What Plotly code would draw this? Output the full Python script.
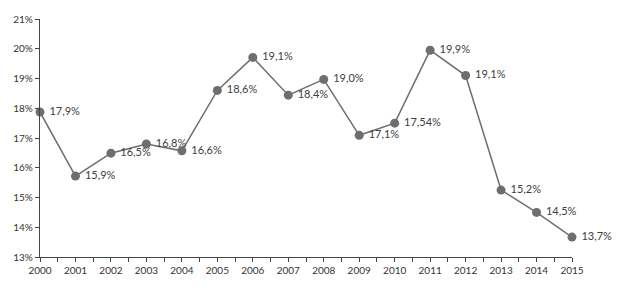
import plotly.graph_objects as go

years = list(range(2000, 2016))
values = [17.87, 15.72, 16.49, 16.8, 16.57, 18.6, 19.71, 18.44, 18.97, 17.09, 17.5, 19.95, 19.1, 15.25, 14.5, 13.67]
labels = ["17,9%", "15,9%", "16,5%", "16,8%", "16,6%", "18,6%", "19,1%", "18,4%", "19,0%",
          "17,1%", "17,54%", "19,9%", "19,1%", "15,2%", "14,5%", "13,7%"]
y_ticks = [13, 14, 15, 16, 17, 18, 19, 20, 21]

fig = go.Figure()
fig.add_trace(go.Scatter(
    x=years, y=values, mode="lines+markers+text",
    text=[" " + t for t in labels], textposition="middle right",
    textfont=dict(family="Lato, DejaVu Sans, sans-serif", size=11, color="#404040"),
    line=dict(color="#6e6e6e", width=1.5),
    marker=dict(color="#6e6e6e", size=9),
    cliponaxis=False, hoverinfo="skip",
))

axis_font = dict(family="Lato, DejaVu Sans, sans-serif", size=10, color="#333333")
fig.update_layout(
    width=616, height=286,
    margin=dict(l=32, r=52, t=11, b=37),
    paper_bgcolor="white", plot_bgcolor="white",
    showlegend=False,
    xaxis=dict(
        range=[2000, 2015], tickvals=years, ticktext=[str(y) for y in years],
        showgrid=False, zeroline=False, showline=True, linecolor="#444444", linewidth=1.3,
        ticks="outside", ticklen=4, tickcolor="#444444", tickfont=axis_font, automargin=False,
        minor=dict(dtick=0.5, tick0=2000, ticks="outside", ticklen=4, tickcolor="#444444", showgrid=False),
    ),
    yaxis=dict(
        range=[13, 21], tickvals=y_ticks, ticktext=[f"{v}%" for v in y_ticks],
        showgrid=False, zeroline=False, showline=True, linecolor="#444444", linewidth=1.3,
        ticks="outside", ticklen=4, tickcolor="#444444", tickfont=axis_font, automargin=False,
    ),
)
fig.write_html("out.html")
